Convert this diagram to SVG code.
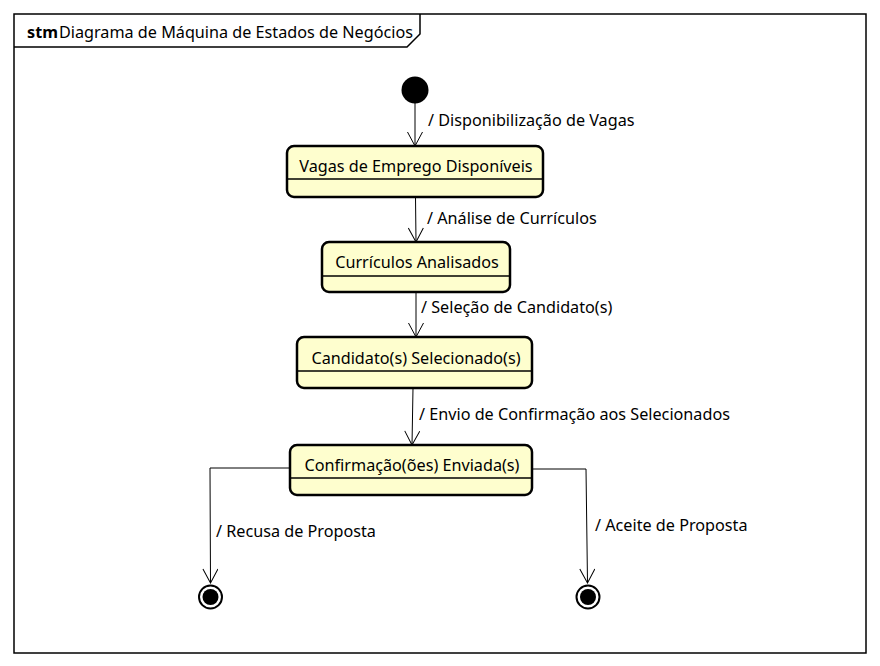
<svg xmlns="http://www.w3.org/2000/svg" width="880" height="666" viewBox="0 0 880 666">
<defs>
<style>
text{font-family:"Noto Sans","Open Sans","DejaVu Sans",sans-serif;font-size:16.2px;fill:#000}
.st rect{fill:#FEFECE;stroke:#000;stroke-width:2.5}
.st line{stroke:#000;stroke-width:1.5}
.st text{text-anchor:middle}
.edge{fill:none;stroke:#000;stroke-width:1}
</style>
<marker id="arr" viewBox="0 0 16 16" refX="15" refY="8" markerWidth="16" markerHeight="16" orient="auto" markerUnits="userSpaceOnUse">
<path d="M1,0.5 L15,8 L1,15.5" fill="none" stroke="#000" stroke-width="1"/>
</marker>
</defs>
<rect width="880" height="666" fill="#fff"/>
<g id="frame">
<rect x="14" y="14" width="852" height="639" fill="none" stroke="#000" stroke-width="1.5"/>
<path d="M14,47 L407,47 L420,34 L420,14" fill="none" stroke="#000" stroke-width="1.5"/>
<text x="27" y="38"><tspan font-weight="bold">stm</tspan><tspan dx="1">Diagrama de Máquina de Estados de Negócios</tspan></text>
</g>
<g id="connectors">
<path class="edge" d="M415,103 L415,146" marker-end="url(#arr)"/>
<path class="edge" d="M415.5,197 L416,242" marker-end="url(#arr)"/>
<path class="edge" d="M416,292 L416,337" marker-end="url(#arr)"/>
<path class="edge" d="M413,388 L412,445" marker-end="url(#arr)"/>
<path class="edge" d="M290,468 L210,468 L210.5,583" marker-end="url(#arr)"/>
<path class="edge" d="M532,469 L586,469 L587.5,583" marker-end="url(#arr)"/>
<text x="428" y="126">/ Disponibilização de Vagas</text>
<text x="427" y="224">/ Análise de Currículos</text>
<text x="421" y="313">/ Seleção de Candidato(s)</text>
<text x="419" y="420">/ Envio de Confirmação aos Selecionados</text>
<text x="216" y="537">/ Recusa de Proposta</text>
<text x="595" y="531">/ Aceite de Proposta</text>
</g>
<g id="start">
<circle cx="415" cy="90" r="13.5" fill="#000"/>
</g>
<g id="s1" class="st">
<rect x="287" y="146" width="256" height="51" rx="7"/>
<line x1="287" y1="179" x2="543" y2="179"/>
<text x="416" y="172">Vagas de Emprego Disponíveis</text>
</g>
<g id="s2" class="st">
<rect x="322" y="242" width="188" height="50" rx="7"/>
<line x1="322" y1="276" x2="510" y2="276"/>
<text x="417" y="268">Currículos Analisados</text>
</g>
<g id="s3" class="st">
<rect x="297" y="337" width="235" height="51" rx="7"/>
<line x1="297" y1="371" x2="532" y2="371"/>
<text x="416" y="364">Candidato(s) Selecionado(s)</text>
</g>
<g id="s4" class="st">
<rect x="290" y="445" width="242" height="50" rx="7"/>
<line x1="290" y1="478" x2="532" y2="478"/>
<text x="412" y="471">Confirmação(ões) Enviada(s)</text>
</g>
<g id="end1">
<circle cx="210.5" cy="597" r="11.5" fill="#fff" stroke="#000" stroke-width="2"/>
<circle cx="210.5" cy="597" r="8" fill="#000"/>
</g>
<g id="end2">
<circle cx="588" cy="597" r="11.5" fill="#fff" stroke="#000" stroke-width="2"/>
<circle cx="588" cy="597" r="8" fill="#000"/>
</g>
</svg>
